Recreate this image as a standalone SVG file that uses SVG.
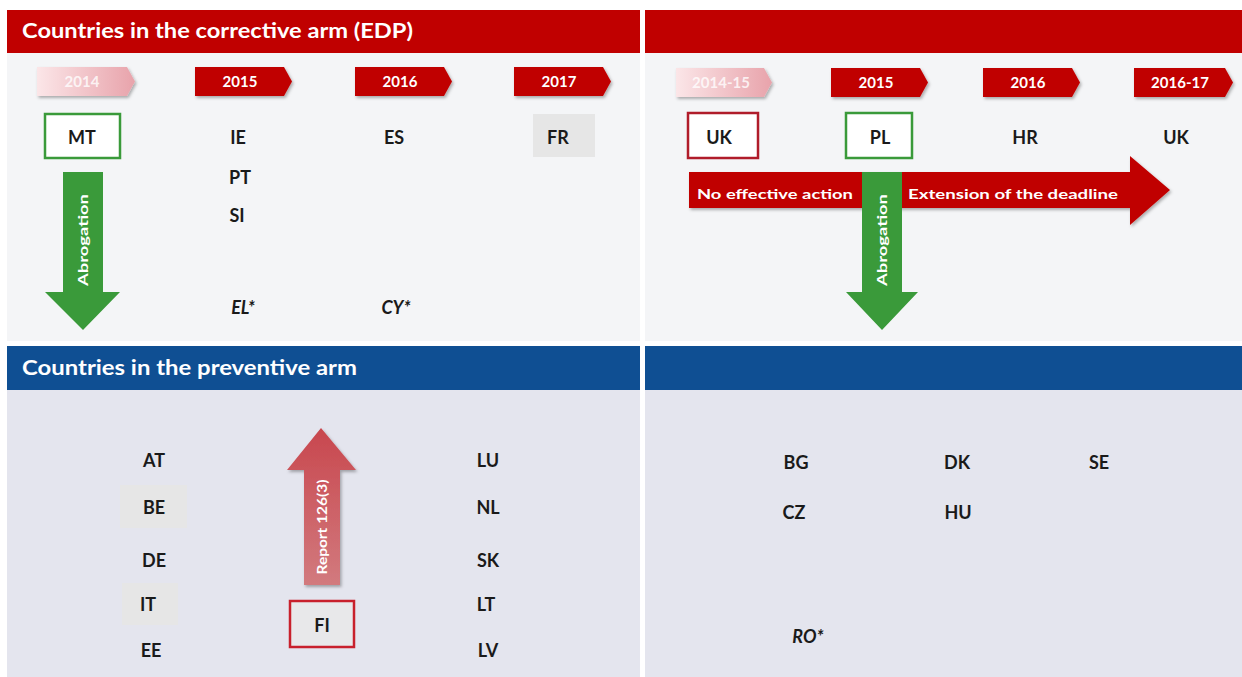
<svg xmlns="http://www.w3.org/2000/svg" width="1242" height="677" viewBox="0 0 1242 677">
<defs>
<linearGradient id="fade" x1="0" y1="0" x2="1" y2="0">
<stop offset="0" stop-color="#fbe6e8"/><stop offset="1" stop-color="#e8a3ab"/>
</linearGradient>
<linearGradient id="rep" x1="0" y1="0" x2="0" y2="1">
<stop offset="0" stop-color="#c8474e"/><stop offset="1" stop-color="#d27a7e"/>
</linearGradient>
<filter id="sh" x="-10%" y="-10%" width="130%" height="140%">
<feDropShadow dx="1.5" dy="2" stdDeviation="1.5" flood-color="#000" flood-opacity="0.3"/>
</filter>
</defs>
<style>
.hd{font-family:Lato,"Open Sans",sans-serif;font-weight:bold;font-size:21px;fill:#fff}
.tag{fill:#c00000;filter:url(#sh)}
.tt{font-family:Lato,"Liberation Sans",sans-serif;font-weight:bold;font-size:15px;fill:#fff;text-anchor:middle}
.c{font-family:Lato,"Open Sans",sans-serif;font-weight:bold;font-size:18px;fill:#1a1a1a;text-anchor:middle;dominant-baseline:central}
.ci{font-style:italic}
.at{font-family:Lato,"Open Sans",sans-serif;font-weight:bold;font-size:14px;fill:#fff}
.rt{font-family:Lato,"Open Sans",sans-serif;font-weight:bold;font-size:13px;fill:#fff;text-anchor:middle;dominant-baseline:central}
.gbox{fill:#e6e6e6}
</style>
<rect width="1242" height="677" fill="#fff"/>
<!-- panels -->
<rect x="7" y="53" width="633" height="288" fill="#f4f5f7"/>
<rect x="645" y="53" width="597" height="288" fill="#f4f5f7"/>
<rect x="7" y="390" width="633" height="287" fill="#e4e5ee"/>
<rect x="645" y="390" width="597" height="287" fill="#e4e5ee"/>
<g id="hdr-corrective">
<rect x="7" y="10" width="633" height="43" fill="#c00000"/>
<text class="hd" x="22" y="38" textLength="391" lengthAdjust="spacingAndGlyphs">Countries in the corrective arm (EDP)</text>
</g>
<g id="hdr-corrective-right"><rect x="645" y="10" width="597" height="43" fill="#c00000"/></g>
<g id="hdr-preventive">
<rect x="7" y="346" width="633" height="44" fill="#0f4f93"/>
<text class="hd" x="22" y="375" textLength="335" lengthAdjust="spacingAndGlyphs">Countries in the preventive arm</text>
</g>
<g id="hdr-preventive-right"><rect x="645" y="346" width="597" height="44" fill="#0f4f93"/></g>
<!-- year tags -->
<g id="y2014"><path d="M37 67H127L135 81.5L127 96H37Z" fill="url(#fade)" filter="url(#sh)"/><text class="tt" x="82" y="87" fill-opacity="0.8">2014</text></g>
<g id="y2015"><path class="tag" d="M195 67H284L292 81.5L284 96H195Z"/><text class="tt" x="240" y="87">2015</text></g>
<g id="y2016"><path class="tag" d="M355 67H444L452 81.5L444 96H355Z"/><text class="tt" x="400" y="87">2016</text></g>
<g id="y2017"><path class="tag" d="M514 67H603L611 81.5L603 96H514Z"/><text class="tt" x="559" y="87">2017</text></g>
<g id="r2014-15"><path d="M676 68H764L772 82.5L764 97H676Z" fill="url(#fade)" filter="url(#sh)"/><text class="tt" x="721" y="88" fill-opacity="0.8">2014-15</text></g>
<g id="r2015"><path class="tag" d="M831 68H920L928 82.5L920 97H831Z"/><text class="tt" x="876" y="88">2015</text></g>
<g id="r2016"><path class="tag" d="M983 68H1072L1080 82.5L1072 97H983Z"/><text class="tt" x="1028" y="88">2016</text></g>
<g id="r2016-17"><path class="tag" d="M1134 68H1225L1233 82.5L1225 97H1134Z"/><text class="tt" x="1180" y="88">2016-17</text></g>
<!-- connectors -->
<g id="connectors">
<g id="arrow-extension">
<path d="M689 172H1130V156L1170 190L1130 225V208H689Z" fill="#c00000" filter="url(#sh)"/>
<text class="at" x="697" y="199" textLength="156" lengthAdjust="spacingAndGlyphs">No effective action</text>
<text class="at" x="908" y="199" textLength="210" lengthAdjust="spacingAndGlyphs">Extension of the deadline</text>
</g>
<g id="arrow-abrogation-mt">
<path d="M63 172H103V292H120L83 330L45 292H63Z" fill="#3a9a3a"/>
<text class="rt" transform="translate(83 240) rotate(-90)" textLength="92" lengthAdjust="spacingAndGlyphs">Abrogation</text>
</g>
<g id="arrow-abrogation-pl">
<path d="M862 172H902V292H918L882 330L846 292H862Z" fill="#3a9a3a"/>
<text class="rt" transform="translate(882 240) rotate(-90)" textLength="92" lengthAdjust="spacingAndGlyphs">Abrogation</text>
</g>
<g id="arrow-report">
<path d="M321 428L356 470H340V585H304V470H287Z" fill="url(#rep)" filter="url(#sh)"/>
<text class="rt" transform="translate(322 527) rotate(-90)" textLength="95" lengthAdjust="spacingAndGlyphs">Report 126(3)</text>
</g>
</g>
<!-- corrective nodes -->
<g id="MT"><rect x="45" y="114" width="75" height="44" fill="#fff" stroke="#3a9a3a" stroke-width="2.5"/><text class="c" x="82" y="137">MT</text></g>
<g id="IE"><text class="c" x="238" y="137">IE</text></g>
<g id="PT"><text class="c" x="240" y="177">PT</text></g>
<g id="SI"><text class="c" x="237" y="215">SI</text></g>
<g id="EL"><text class="c ci" x="243" y="307">EL*</text></g>
<g id="ES"><text class="c" x="394" y="137">ES</text></g>
<g id="CY"><text class="c ci" x="396" y="307">CY*</text></g>
<g id="FR"><rect class="gbox" x="533" y="114" width="62" height="43"/><text class="c" x="558" y="137">FR</text></g>
<g id="UK1"><rect x="688" y="113" width="70" height="45" fill="#fff" stroke="#b01c2a" stroke-width="2.5"/><text class="c" x="719" y="137">UK</text></g>
<g id="PL"><rect x="846" y="113" width="66" height="45" fill="#fff" stroke="#3a9a3a" stroke-width="2.5"/><text class="c" x="880" y="137">PL</text></g>
<g id="HR"><text class="c" x="1025" y="137">HR</text></g>
<g id="UK2"><text class="c" x="1176" y="137">UK</text></g>
<!-- preventive nodes -->
<g id="AT"><text class="c" x="154" y="460">AT</text></g>
<g id="BE"><rect class="gbox" x="120" y="485" width="67" height="43"/><text class="c" x="154" y="507">BE</text></g>
<g id="DE"><text class="c" x="154" y="560">DE</text></g>
<g id="IT"><rect class="gbox" x="122" y="583" width="56" height="42"/><text class="c" x="148" y="604">IT</text></g>
<g id="EE"><text class="c" x="151" y="650">EE</text></g>
<g id="FI"><rect x="290" y="601" width="64" height="46" fill="#e8e8ea" stroke="#c8202c" stroke-width="2.5"/><text class="c" x="322" y="625">FI</text></g>
<g id="LU"><text class="c" x="488" y="460">LU</text></g>
<g id="NL"><text class="c" x="488" y="507">NL</text></g>
<g id="SK"><text class="c" x="488" y="560">SK</text></g>
<g id="LT"><text class="c" x="486" y="604">LT</text></g>
<g id="LV"><text class="c" x="488" y="650">LV</text></g>
<g id="BG"><text class="c" x="796" y="462">BG</text></g>
<g id="DK"><text class="c" x="957" y="462">DK</text></g>
<g id="SE"><text class="c" x="1099" y="462">SE</text></g>
<g id="CZ"><text class="c" x="794" y="512">CZ</text></g>
<g id="HU"><text class="c" x="958" y="512">HU</text></g>
<g id="RO"><text class="c ci" x="808" y="636">RO*</text></g>
</svg>
